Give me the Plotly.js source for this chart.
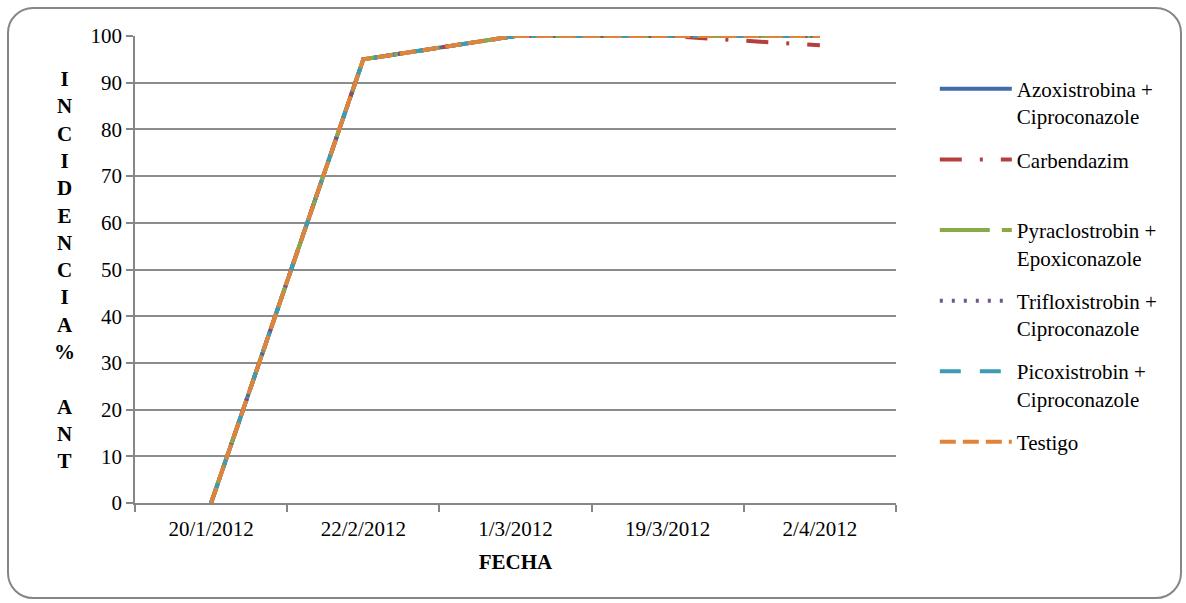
<!DOCTYPE html>
<html>
<head>
<meta charset="utf-8">
<script src="https://cdn.plot.ly/plotly-3.0.1.min.js"></script>
<style>
  html, body { margin: 0; padding: 0; background: #fff; }
  #wrap { position: relative; width: 1186px; height: 603px; }
  #chart { position: absolute; left: 0; top: 0; width: 1186px; height: 603px; }
  #frame { position: absolute; left: 7px; top: 7px; width: 1171px; height: 588px;
           border: 2px solid #868686; border-radius: 26px; pointer-events: none; }
</style>
</head>
<body>
<div id="wrap">
  <div id="chart"></div>
  <div id="frame"></div>
</div>
<script>
// ---- data ----
const fechas = ["20/1/2012", "22/2/2012", "1/3/2012", "19/3/2012", "2/4/2012"];
const seriesNames = [
  "Azoxistrobina +<br>Ciproconazole",
  "Carbendazim<br> ",
  "Pyraclostrobin +<br>Epoxiconazole",
  "Trifloxistrobin +<br>Ciproconazole",
  "Picoxistrobin +<br>Ciproconazole",
  "Testigo"
];
const azoxistrobina   = [0, 95, 100, 100, 100];
const carbendazim     = [0, 95, 100, 100, 98];
const pyraclostrobin  = [0, 95, 100, 100, 100];
const trifloxistrobin = [0, 95, 100, 100, 100];
const picoxistrobin   = [0, 95, 100, 100, 100];
const testigo         = [0, 95, 100, 100, 100];
const yTicks = [0, 10, 20, 30, 40, 50, 60, 70, 80, 90, 100];
const yTitleLetters = ["I","N","C","I","D","E","N","C","I","A","%"," ","A","N","T"];

// ---- styles ----
const values = [azoxistrobina, carbendazim, pyraclostrobin, trifloxistrobin, picoxistrobin, testigo];
const colors = ["#3F6DAA", "#B3403C", "#8AAA48", "#6F5594", "#3E9BB4", "#E1843A"];
const dashes = ["solid", "22px,18px,3px,18px", "50px,12px", "3px,9px", "21px,19px", "16px,7px"];
const FONT = '"Liberation Serif", "Times New Roman", serif';

const traces = values.map((v, i) => ({
  type: "scatter",
  mode: "lines",
  x: fechas,
  y: v,
  name: seriesNames[i],
  legendgroup: "g" + i,
  line: { color: colors[i], width: 4, dash: dashes[i] },
  hoverinfo: "x+y+name"
}));

const layout = {
  width: 1186,
  height: 603,
  paper_bgcolor: "#ffffff",
  plot_bgcolor: "#ffffff",
  margin: { l: 135, r: 290, t: 36, b: 100 },
  font: { family: FONT, size: 21, color: "#000" },
  showlegend: true,
  legend: {
    x: 1.051, xanchor: "left",
    y: 0.93, yanchor: "top",
    valign: "top",
    itemwidth: 72,
    tracegroupgap: 13,
    font: { family: FONT, size: 21, color: "#000" },
    bgcolor: "rgba(0,0,0,0)"
  },
  xaxis: {
    type: "category",
    range: [-0.5, 4.5],
    tickson: "boundaries",
    ticks: "outside",
    ticklen: 7,
    tickwidth: 1.5,
    tickcolor: "#868686",
    showline: true,
    linecolor: "#868686",
    linewidth: 1.5,
    showgrid: false,
    zeroline: false,
    ticklabelstandoff: 6,
    tickfont: { family: FONT, size: 21 },
    title: { text: "<b>FECHA</b>", font: { family: FONT, size: 21 }, standoff: 14 },
    fixedrange: true
  },
  yaxis: {
    range: [0, 100],
    tickvals: yTicks,
    ticks: "outside",
    ticklen: 7,
    tickwidth: 1.5,
    tickcolor: "#868686",
    showline: true,
    linecolor: "#868686",
    linewidth: 1.5,
    showgrid: true,
    gridcolor: "#8C8C8C",
    gridwidth: 1.5,
    zeroline: false,
    tickfont: { family: FONT, size: 21 },
    fixedrange: true
  },
  annotations: [{
    xref: "paper", yref: "paper",
    x: -0.092, y: 0.5,
    xanchor: "center", yanchor: "middle",
    text: "<b>" + yTitleLetters.join("<br>") + "</b>",
    showarrow: false,
    align: "center",
    font: { family: FONT, size: 21, color: "#000" }
  }]
};

Plotly.newPlot("chart", traces, layout, { displayModeBar: false, staticPlot: false });
</script>
</body>
</html>
